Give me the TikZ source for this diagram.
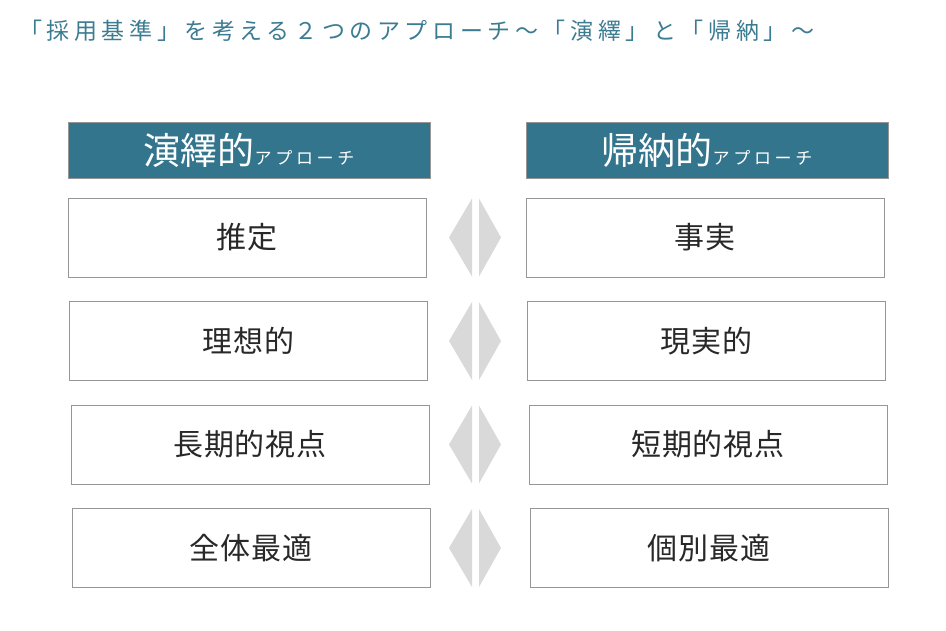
\documentclass[tikz,border=0pt]{standalone}
\usepackage{fontspec}
\setmainfont{Noto Sans CJK JP}
\usepackage{tikz}

\definecolor{hdrteal}{RGB}{51,117,140}
\definecolor{titleteal}{RGB}{60,124,146}
\definecolor{boxline}{RGB}{150,150,150}
\definecolor{gapgray}{RGB}{217,217,217}
\definecolor{celltext}{RGB}{40,40,40}

\tikzset{
  hdrbox/.style={draw=boxline, fill=hdrteal, text=white, line width=.8pt,
    minimum width=362pt, minimum height=56pt, inner sep=0pt},
  cellbox/.style={draw=boxline, fill=white, text=celltext, line width=.8pt,
    minimum width=358pt, minimum height=79pt, inner sep=0pt,
    font=\fontsize{30}{30}\selectfont\addfontfeature{LetterSpace=3}},
  gapfill/.style={fill=gapgray}
}

\newcommand{\bigpart}[1]{{\fontsize{37}{37}\selectfont #1}}
\newcommand{\smallpart}[1]{{\fontsize{17}{17}\selectfont\addfontfeature{LetterSpace=22}#1}}

\begin{document}
\begin{tikzpicture}[x=1pt,y=-1pt]
            \useasboundingbox (0,0) rectangle (946,631);
            % title
            \node[anchor=west, text=titleteal, inner sep=0pt] (title) at (19,31)
              {\fontsize{23}{23}\selectfont\addfontfeature{LetterSpace=20}「採用基準」を考える２つのアプローチ～「演繹」と「帰納」～};
            % heads
            \node[hdrbox] (hdL) at (249,150) {\bigpart{演繹的}\smallpart{アプローチ}};
            \node[hdrbox] (hdR) at (707,150) {\bigpart{帰納的}\smallpart{アプローチ}};
            % rows
            \foreach \i/\y/\dx/\l/\r in {1/237.5/0/推定/事実, 2/341/1.5/理想的/現実的,
                                        3/444.5/3/長期的視点/短期的視点, 4/548/4/全体最適/個別最適}
            {
              \node[cellbox] (L\i) at (247+\dx,\y) {\l};
              \node[cellbox] (R\i) at (705+\dx,\y) {\r};
              \fill[gapfill] (472,\y-39) -- (449,\y) -- (472,\y+39) -- cycle;
              \fill[gapfill] (479,\y-39) -- (501,\y) -- (479,\y+39) -- cycle;
            }
        \end{tikzpicture}
\end{document}
